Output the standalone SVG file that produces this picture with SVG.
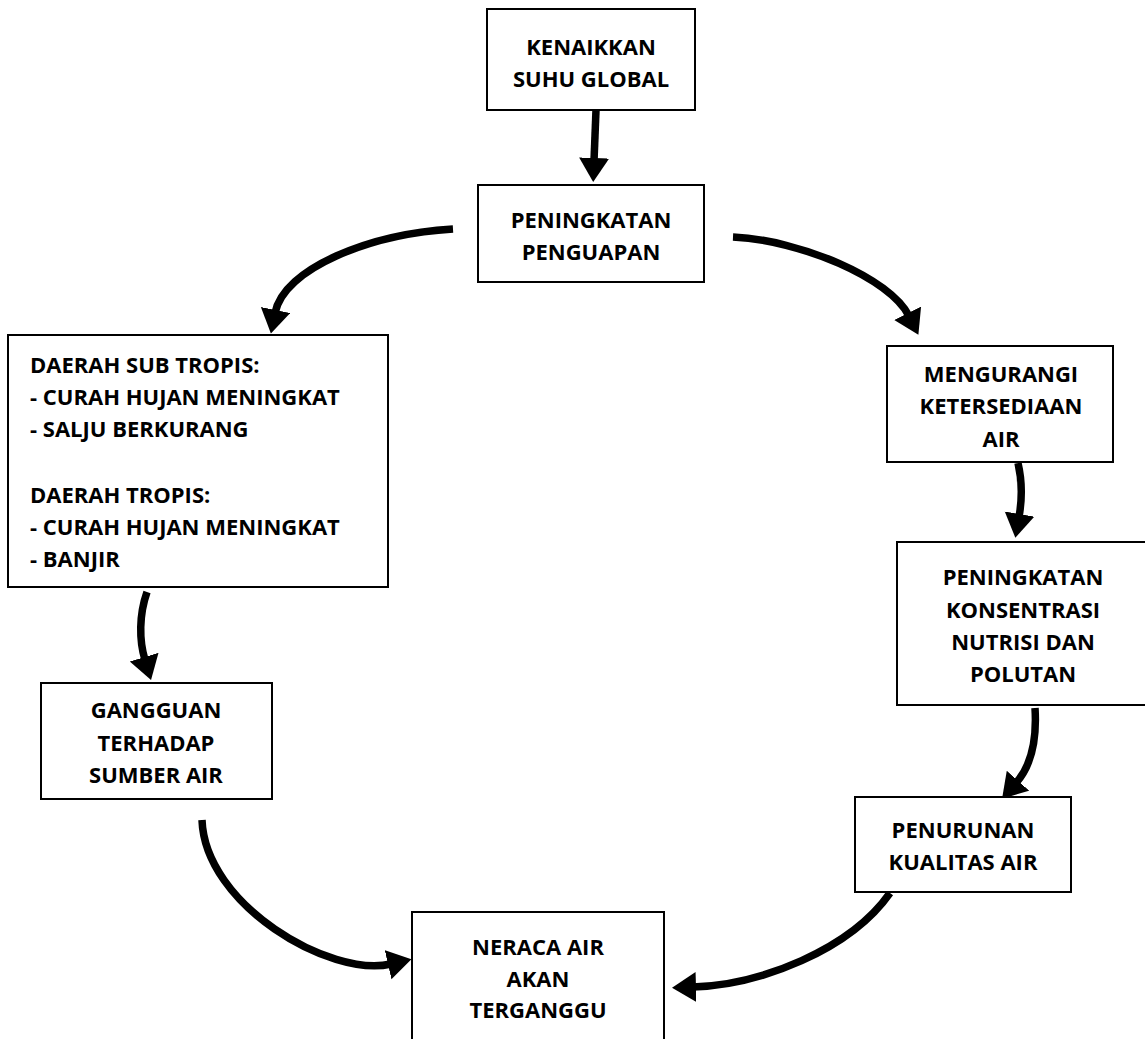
<svg xmlns="http://www.w3.org/2000/svg" width="1145" height="1039" viewBox="0 0 1145 1039">
<style>
.box{fill:#fff;stroke:#000;stroke-width:2}
.t{font-family:"Open Sans","Liberation Sans",sans-serif;font-weight:bold;font-size:22px;fill:#000}
.c{text-anchor:middle}
.a{fill:none;stroke:#000;stroke-width:7.5;stroke-linecap:butt;marker-end:url(#ah)}
</style>
<defs>
<marker id="ah" markerUnits="userSpaceOnUse" markerWidth="26" markerHeight="32" refX="3" refY="15" orient="auto">
<path d="M0,0 L24,15 L0,30 z" fill="#000"/>
</marker>
</defs>
<rect width="1145" height="1039" fill="#fff"/>
<g id="connectors">
<path class="a" d="M596,110 L594,161"/>
<path class="a" d="M453,229 C370,234 284,268 275,313"/>
<path class="a" d="M733,237 C800,240 890,278 909,316"/>
<path class="a" d="M147,592 C139,615 139,640 145,660"/>
<path class="a" d="M1018,463 C1022,480 1022,500 1019,517"/>
<path class="a" d="M1035,708 C1037,740 1032,765 1016,783"/>
<path class="a" d="M890,893 C850,950 760,985 693,987"/>
<path class="a" d="M202,820 C205,905 330,978 391,964"/>
</g>
<g id="n1"><rect class="box" x="487" y="9" width="208" height="101"/>
<text class="t c" x="591" y="55">KENAIKKAN</text><text class="t c" x="591" y="87">SUHU GLOBAL</text></g>
<g id="n2"><rect class="box" x="478" y="185" width="226" height="97"/>
<text class="t c" x="591" y="228">PENINGKATAN</text><text class="t c" x="591" y="260">PENGUAPAN</text></g>
<g id="n3"><rect class="box" x="8" y="335" width="380" height="252"/>
<text class="t" x="30" y="373">DAERAH SUB TROPIS:</text>
<text class="t" x="30" y="405">- CURAH HUJAN MENINGKAT</text>
<text class="t" x="30" y="437">- SALJU BERKURANG</text>
<text class="t" x="30" y="503">DAERAH TROPIS:</text>
<text class="t" x="30" y="535">- CURAH HUJAN MENINGKAT</text>
<text class="t" x="30" y="567">- BANJIR</text></g>
<g id="n4"><rect class="box" x="41" y="683" width="231" height="116"/>
<text class="t c" x="156" y="718">GANGGUAN</text><text class="t c" x="156" y="751">TERHADAP</text><text class="t c" x="156" y="783">SUMBER AIR</text></g>
<g id="n5"><rect class="box" x="887" y="346" width="226" height="116"/>
<text class="t c" x="1001" y="382">MENGURANGI</text><text class="t c" x="1001" y="414">KETERSEDIAAN</text><text class="t c" x="1001" y="447">AIR</text></g>
<g id="n6"><rect class="box" x="897" y="542" width="253" height="163"/>
<text class="t c" x="1023" y="585">PENINGKATAN</text><text class="t c" x="1023" y="618">KONSENTRASI</text><text class="t c" x="1023" y="650">NUTRISI DAN</text><text class="t c" x="1023" y="682">POLUTAN</text></g>
<g id="n7"><rect class="box" x="855" y="797" width="216" height="95"/>
<text class="t c" x="963" y="838">PENURUNAN</text><text class="t c" x="963" y="870">KUALITAS AIR</text></g>
<g id="n8"><rect class="box" x="412" y="912" width="252" height="140"/>
<text class="t c" x="538" y="955">NERACA AIR</text><text class="t c" x="538" y="987">AKAN</text><text class="t c" x="538" y="1018">TERGANGGU</text></g>
</svg>
